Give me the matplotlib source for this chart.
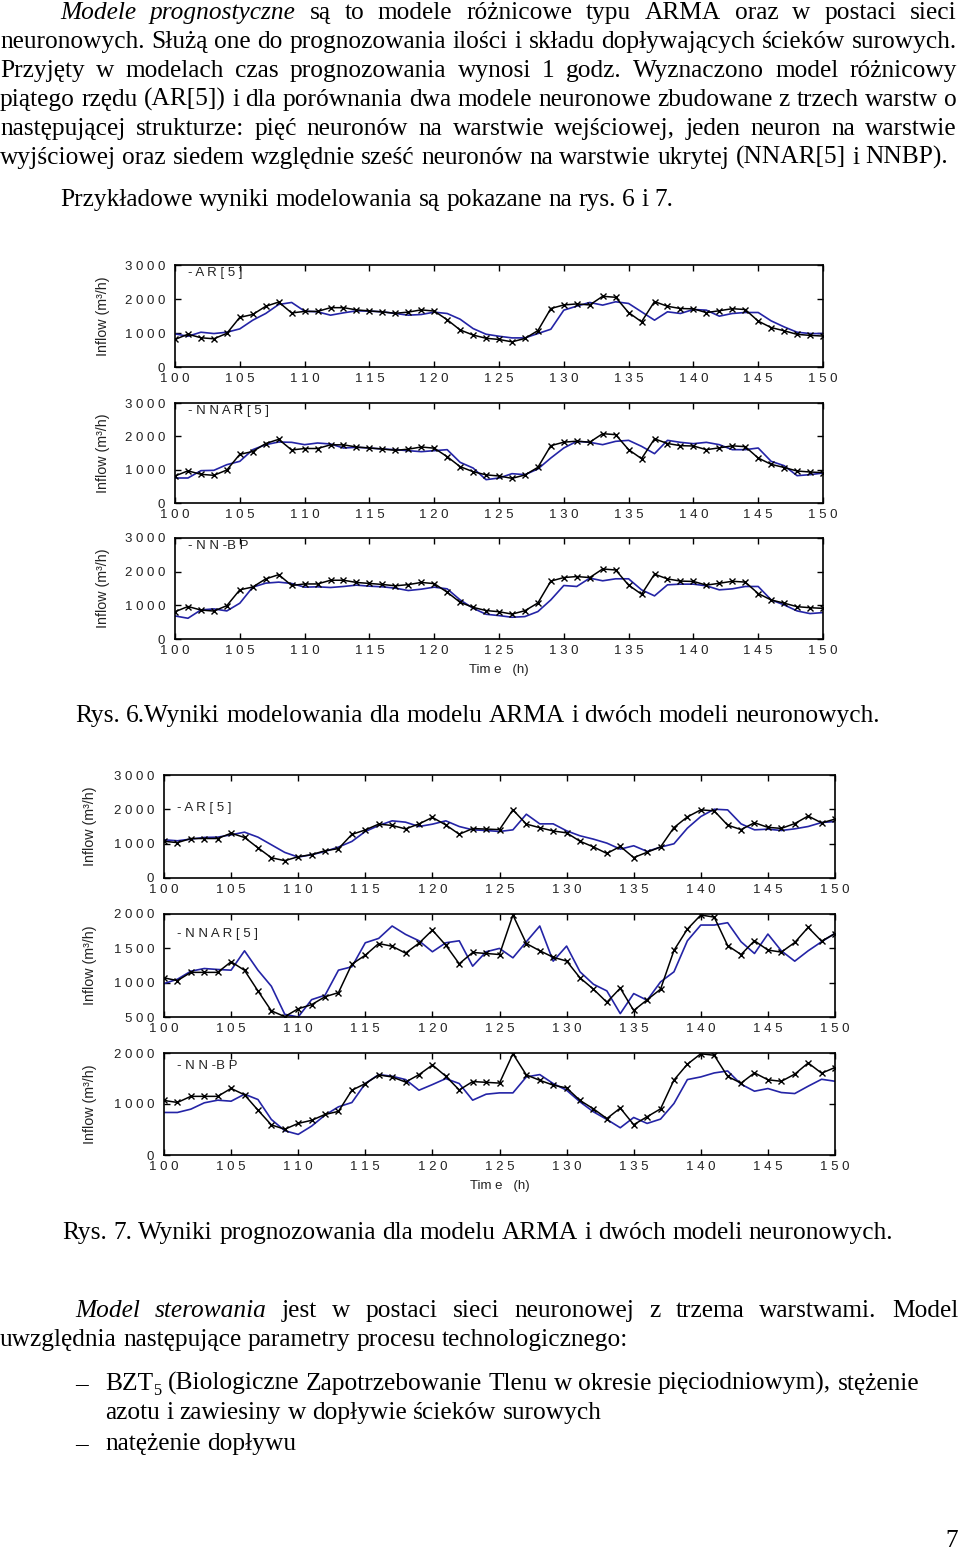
import matplotlib
matplotlib.use('Agg')
import matplotlib.pyplot as plt
import numpy as np

W, H = 960, 1550
SERIF = 'Liberation Serif'
SANS = 'Liberation Sans'

# ---------------- data ----------------
hours = list(range(100, 151))

# Fig. 6 - measured inflow (m3/h)
fig6_actual = [810, 965, 860, 830, 990, 1460, 1545, 1785, 1910, 1590,
               1635, 1635, 1745, 1745, 1680, 1650, 1620, 1580, 1615, 1680,
               1645, 1390, 1090, 940, 845, 810, 740, 840, 1070, 1720,
               1825, 1855, 1825, 2080, 2050, 1600, 1330, 1925, 1785, 1720,
               1710, 1600, 1655, 1715, 1690, 1350, 1160, 1065, 960, 930, 910]
fig6_ar5 = [974, 905, 1023, 984, 1023, 1121, 1377, 1574, 1839, 1898,
            1643, 1623, 1524, 1593, 1652, 1643, 1623, 1574, 1524, 1544,
            1613, 1574, 1406, 1131, 964, 905, 856, 856, 984, 1111,
            1672, 1790, 1898, 1820, 1918, 1869, 1623, 1377, 1623, 1574,
            1692, 1672, 1495, 1574, 1603, 1603, 1357, 1180, 1023, 984, 984]
fig6_nnar5 = [750, 750, 970, 980, 1150, 1250, 1600, 1750, 1830, 1820,
              1750, 1800, 1770, 1650, 1670, 1650, 1620, 1600, 1570, 1540,
              1570, 1600, 1220, 1050, 700, 750, 880, 850, 1020, 1350,
              1650, 1850, 1820, 1750, 1850, 1880, 1700, 1480, 1880, 1820,
              1780, 1820, 1750, 1600, 1600, 1650, 1250, 1120, 820, 850, 900]
fig6_nnbp = [685, 616, 864, 894, 834, 1063, 1540, 1659, 1689, 1649,
             1540, 1550, 1530, 1560, 1600, 1569, 1550, 1510, 1440, 1480,
             1540, 1490, 1162, 914, 735, 695, 646, 666, 815, 1162,
             1589, 1560, 1808, 1729, 1788, 1788, 1460, 1281, 1609, 1629,
             1629, 1580, 1460, 1490, 1560, 1560, 1162, 1013, 834, 755, 785]

# Fig. 7 - measured inflow (m3/h)
fig7_actual = [1070, 1030, 1150, 1150, 1150, 1305, 1180, 880, 590, 505,
               620, 680, 795, 855, 1270, 1400, 1570, 1530, 1430, 1575,
               1765, 1545, 1275, 1440, 1425, 1410, 1985, 1570, 1465, 1370,
               1315, 1070, 905, 715, 920, 595, 750, 905, 1470, 1780,
               1985, 1955, 1540, 1410, 1610, 1475, 1445, 1585, 1805, 1605, 1715]
fig7_ar5 = [1113, 1084, 1132, 1181, 1190, 1258, 1335, 1190, 968, 745,
            610, 677, 774, 900, 1065, 1355, 1529, 1665, 1626, 1500,
            1568, 1665, 1500, 1403, 1384, 1355, 1403, 1858, 1577, 1577,
            1374, 1229, 1132, 1016, 842, 939, 774, 900, 997, 1452,
            1790, 2003, 1984, 1577, 1403, 1422, 1384, 1432, 1500, 1616, 1645]
fig7_nnar5 = [987, 1050, 1167, 1206, 1192, 1182, 1464, 1182, 948, 539,
              500, 753, 817, 1182, 1231, 1581, 1645, 1825, 1703, 1610,
              1450, 1581, 1610, 1240, 1450, 1499, 1362, 1596, 1825, 1313,
              1533, 1158, 977, 880, 549, 841, 744, 1011, 1158, 1610,
              1839, 1839, 1873, 1596, 1425, 1708, 1464, 1313, 1464, 1596, 1718]
fig7_nnbp = [834, 834, 899, 1023, 1075, 1055, 1192, 1088, 697, 476,
             404, 567, 782, 945, 1029, 1401, 1577, 1544, 1479, 1270,
             1381, 1498, 1401, 1075, 1192, 1218, 1218, 1531, 1577, 1401,
             1270, 1042, 847, 697, 534, 736, 619, 704, 1010, 1479,
             1531, 1609, 1648, 1388, 1251, 1303, 1225, 1205, 1349, 1485, 1446]

xticks = [100, 105, 110, 115, 120, 125, 130, 135, 140, 145, 150]
model_names = ['- A R [ 5 ]', '- N N A R [ 5 ]', '- N N -B P']

# ---------------- figure ----------------
fig = plt.figure(figsize=(W / 100, H / 100), dpi=100)
renderer = fig.canvas.get_renderer()


def measure(s, **kw):
    t = fig.text(0, 0, s, **kw)
    w = t.get_window_extent(renderer).width
    t.remove()
    return w


base_kw = dict(family=SERIF)
FS = 10 * 615 / measure("Przykładowe wyniki modelowania są pokazane na rys. 6 i 7.", size=10, **base_kw)
SPACE = measure("a a", size=FS, **base_kw) - measure("aa", size=FS, **base_kw)


def run_kw(opt):
    kw = dict(family=SERIF, size=FS)
    if opt.get('italic'):
        kw['style'] = 'italic'
    if opt.get('sub'):
        kw['size'] = FS * 0.65
    return kw


def draw_line(yc, x0, runs, x1=None):
    """runs: list of (text, opts). opts: italic, sub, glue"""
    yb = yc + 7
    widths = [measure(t, **run_kw(o)) for t, o in runs]
    ngaps = sum(1 for i, (t, o) in enumerate(runs) if i > 0 and not o.get('glue'))
    if x1 is not None and ngaps > 0:
        gap = (x1 - x0 - sum(widths)) / ngaps
    else:
        gap = SPACE
    x = x0
    for i, ((t, o), w) in enumerate(zip(runs, widths)):
        if i > 0 and not o.get('glue'):
            x += gap
        dy = 5 if o.get('sub') else 0
        fig.text(x / W, 1 - (yb + dy) / H, t, ha='left', va='baseline', **run_kw(o))
        x += w


def words(s, italic=False):
    return [(w, {'italic': italic}) for w in s.split()]


draw_line(12, 60, words("Modele prognostyczne", True) + words("są to modele różnicowe typu ARMA oraz w postaci sieci"), 957)
draw_line(41, 0, words("neuronowych. Służą one do prognozowania ilości i składu dopływających ścieków surowych."), 957)
draw_line(70, 0, words("Przyjęty w modelach czas prognozowania wynosi 1 godz. Wyznaczono model różnicowy"), 957)
draw_line(99, 0, words("piątego rzędu (AR[5]) i dla porównania dwa modele neuronowe zbudowane z trzech warstw o"), 957)
draw_line(128, 0, words("następującej strukturze: pięć neuronów na warstwie wejściowej, jeden neuron na warstwie"), 957)
draw_line(157, 0, words("wyjściowej oraz siedem względnie sześć neuronów na warstwie ukrytej (NNAR[5] i NNBP)."))
draw_line(199, 60, words("Przykładowe wyniki modelowania są pokazane na rys. 6 i 7."))

draw_line(715, 75, words("Rys. 6.Wyniki modelowania dla modelu ARMA i dwóch modeli neuronowych."))
draw_line(1232, 62, words("Rys. 7. Wyniki prognozowania dla modelu ARMA i dwóch modeli neuronowych."))

draw_line(1310, 75, words("Model sterowania", True) + words("jest w postaci sieci neuronowej z trzema warstwami. Model"), 958)
draw_line(1339, 0, words("uwzględnia następujące parametry procesu technologicznego:"))
draw_line(1383, 75, [("–", {})])
draw_line(1383, 105, [("BZT", {}), ("5", {'sub': True, 'glue': True})] +
          words("(Biologiczne Zapotrzebowanie Tlenu w okresie pięciodniowym), stężenie"))
draw_line(1412, 105, words("azotu i zawiesiny w dopływie ścieków surowych"))
draw_line(1443, 75, [("–", {})])
draw_line(1443, 105, words("natężenie dopływu"))
fig.text(958 / W, 1 - 1547 / H, "7", ha='right', va='baseline', family=SERIF, size=FS)

# ---------------- charts ----------------
TICK_FS = 9.5
LABEL_FS = 10.3
BLUE = '#2424a6'
GREY = '#222222'


def spaced(v):
    return " ".join(str(v))


def panel(box, label_x, actual, model, ylim, yticks, name, name_pos, xlabel=False):
    x0, y0, x1, y1 = box
    ax = fig.add_axes([x0 / W, 1 - y1 / H, (x1 - x0) / W, (y1 - y0) / H])
    ax.plot(hours, model, color=BLUE, lw=1.2, zorder=2)
    ax.plot(hours, actual, color='black', lw=1.1, marker='x', ms=5, mew=1.0, zorder=3)
    ax.set_xlim(100, 150)
    ax.set_ylim(*ylim)
    ax.set_xticks(xticks)
    ax.set_xticklabels([spaced(v) for v in xticks], family=SANS, fontsize=TICK_FS, color=GREY)
    ax.set_yticks(yticks)
    ax.set_yticklabels([spaced(v) for v in yticks], family=SANS, fontsize=TICK_FS, color=GREY)
    ax.tick_params(direction='in', top=True, right=True, length=4, width=1.0,
                   color='black', pad=4)
    ax.tick_params(axis='y', pad=7)
    for s in ax.spines.values():
        s.set_linewidth(1.2)
    ax.set_ylabel("Inflow (m³/h)", family=SANS, fontsize=LABEL_FS, color=GREY)
    ax.yaxis.set_label_coords((label_x - x0) / (x1 - x0), 0.5)
    ax.text(name_pos[0], name_pos[1], name, transform=ax.transAxes, family=SANS,
            fontsize=TICK_FS, color=GREY, ha='left', va='center')
    if xlabel:
        ax.set_xlabel("Tim e   (h)", family=SANS, fontsize=TICK_FS, color=GREY, labelpad=5)
    return ax


panel((175, 265, 823, 367), 110, fig6_actual, fig6_ar5, (0, 3000), [0, 1000, 2000, 3000],
      model_names[0], (0.02, 0.92))
panel((175, 403, 823, 503), 110, fig6_actual, fig6_nnar5, (0, 3000), [0, 1000, 2000, 3000],
      model_names[1], (0.02, 0.92))
panel((175, 538, 823, 639), 110, fig6_actual, fig6_nnbp, (0, 3000), [0, 1000, 2000, 3000],
      model_names[2], (0.02, 0.92), xlabel=True)

panel((164, 775, 835, 878), 97, fig7_actual, fig7_ar5, (0, 3000), [0, 1000, 2000, 3000],
      model_names[0], (0.02, 0.68))
panel((164, 914, 835, 1017), 97, fig7_actual, fig7_nnar5, (500, 2000), [500, 1000, 1500, 2000],
      model_names[1], (0.02, 0.81))
panel((164, 1053, 835, 1155), 97, fig7_actual, fig7_nnbp, (0, 2000), [0, 1000, 2000],
      model_names[2], (0.02, 0.87), xlabel=True)

fig.savefig('out.png', dpi=100)
